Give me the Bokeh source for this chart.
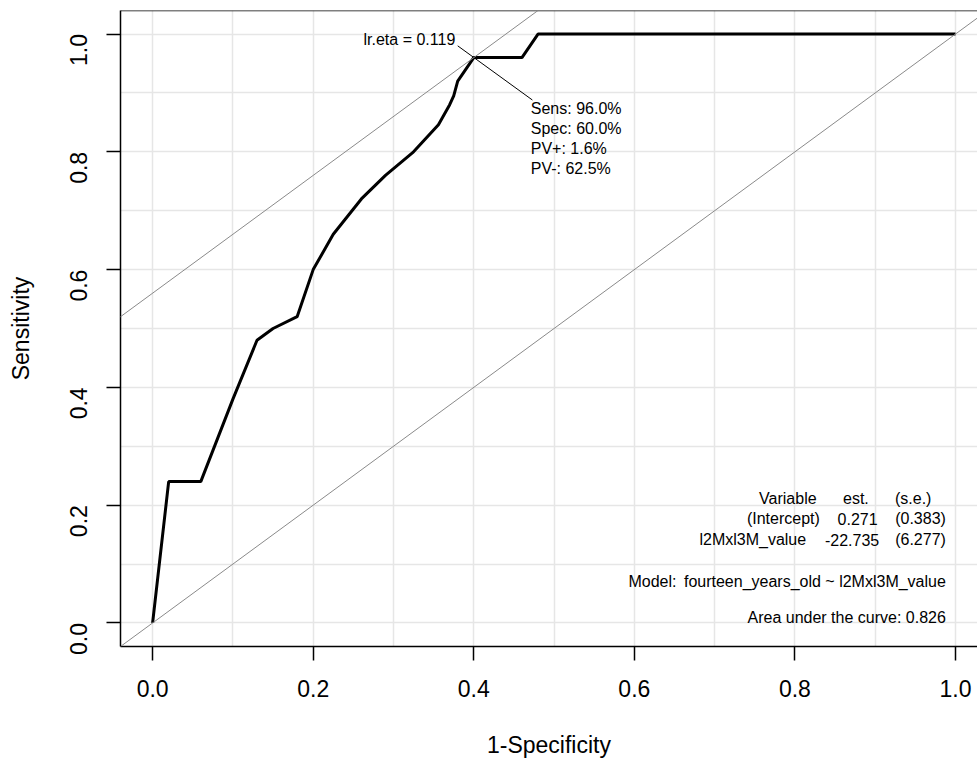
import math
from bokeh.plotting import figure
from bokeh.models import FixedTicker, SingleIntervalTicker, Slope, Span, Label
from bokeh.embed import file_html
from bokeh.resources import INLINE

# ---------------- data ----------------
fpr = [0.0, 0.02, 0.06, 0.10, 0.13, 0.15, 0.18, 0.20, 0.225, 0.26, 0.29, 0.325,
       0.356, 0.37, 0.375, 0.38, 0.39, 0.40, 0.46, 0.48, 1.0]
tpr = [0.0, 0.24, 0.24, 0.38, 0.48, 0.50, 0.52, 0.60, 0.66, 0.72, 0.76, 0.80,
       0.846, 0.88, 0.895, 0.92, 0.94, 0.96, 0.96, 1.0, 1.0]

tick_values = [0.0, 0.2, 0.4, 0.6, 0.8, 1.0]
tick_labels = ["0.0", "0.2", "0.4", "0.6", "0.8", "1.0"]

opt_fpr = 0.40
opt_tpr = 0.96
lr_eta = 0.119
stat_names = ["Sens", "Spec", "PV+", "PV-"]
stat_values = [96.0, 60.0, 1.6, 62.5]

table_variable = ["Variable", "(Intercept)", "l2Mxl3M_value"]
table_est = ["est.", "0.271", "-22.735"]
table_se = ["(s.e.)", "(0.383)", "(6.277)"]
model_label = "Model:"
model_formula = "fourteen_years_old ~ l2Mxl3M_value"
auc = 0.826

FONT = "Liberation Sans"

# ---------------- figure ----------------
p = figure(width=977, height=762, x_range=(-0.04, 1.0274), y_range=(-0.04, 1.04),
           output_backend="svg", toolbar_location=None,
           min_border_left=120, min_border_right=0, min_border_top=10, min_border_bottom=116,
           x_axis_label="1-Specificity", y_axis_label="Sensitivity")
p.background_fill_color = "white"
p.border_fill_color = "white"
p.outline_line_color = None

for g in (p.xgrid, p.ygrid):
    g.ticker = SingleIntervalTicker(interval=0.1)
    g.grid_line_color = "#e6e6e6"
    g.grid_line_width = 1.5

overrides = {v: t for v, t in zip(tick_values, tick_labels)}
for ax in (p.xaxis, p.yaxis):
    ax.ticker = FixedTicker(ticks=tick_values)
    ax.major_label_overrides = overrides
    ax.major_tick_out = 14
    ax.major_tick_in = 0
    ax.minor_tick_line_color = None
    ax.axis_line_color = "black"
    ax.axis_line_width = 1.5
    ax.major_tick_line_color = "black"
    ax.major_tick_line_width = 1.5
    ax.major_label_text_font = FONT
    ax.major_label_text_font_size = "23px"
    ax.major_label_text_color = "black"
    ax.axis_label_text_font = FONT
    ax.axis_label_text_font_size = "23px"
    ax.axis_label_text_font_style = "normal"
    ax.axis_label_text_color = "black"

p.yaxis.major_label_orientation = math.pi / 2
p.yaxis.major_label_standoff = 28
p.yaxis.axis_label_standoff = 25
p.xaxis.major_label_standoff = 19
p.xaxis.axis_label_standoff = 32

# top border of the plot box
p.add_layout(Span(location=1.04, dimension="width", line_color="black", line_width=1.5))

# reference lines
p.add_layout(Slope(gradient=1, y_intercept=0, line_color="#8a8a8a", line_width=1))
p.add_layout(Slope(gradient=1, y_intercept=opt_tpr - opt_fpr, line_color="#8a8a8a", line_width=1))

# ROC curve
p.line(fpr, tpr, line_color="black", line_width=3)

# optimal point annotation
p.segment(x0=[opt_fpr - 0.020], y0=[opt_tpr + 0.020],
          x1=[opt_fpr + 0.073], y1=[opt_tpr - 0.072], line_color="black", line_width=1)
p.add_layout(Label(x=opt_fpr - 0.023, y=opt_tpr + 0.030, text="lr.eta = %.3f" % lr_eta,
                   text_align="right", text_baseline="middle", text_font=FONT,
                   text_font_size="16px", text_color="black"))
for i, (nm, v) in enumerate(zip(stat_names, stat_values)):
    p.add_layout(Label(x=opt_fpr + 0.071, y=opt_tpr - 0.086 - i * 0.034,
                       text="%s: %.1f%%" % (nm, v), text_align="left", text_baseline="middle",
                       text_font=FONT, text_font_size="16px", text_color="black"))

# model table (bottom right)
row_y = [0.212, 0.177, 0.141]
col_x = [[0.827, 0.892, 0.970], [0.831, 0.903, 0.988], [0.814, 0.905, 0.988]]
for r in range(3):
    for c, col in enumerate((table_variable, table_est, table_se)):
        p.add_layout(Label(x=col_x[r][c], y=row_y[r], text=col[r], text_align="right",
                           text_baseline="middle", text_font=FONT, text_font_size="16px",
                           text_color="black"))
p.add_layout(Label(x=0.5926, y=0.0696, text=model_label, text_align="left",
                   text_baseline="middle", text_font=FONT, text_font_size="16px",
                   text_color="black"))
p.add_layout(Label(x=0.988, y=0.0696, text=model_formula, text_align="right",
                   text_baseline="middle", text_font=FONT, text_font_size="16px",
                   text_color="black"))
p.add_layout(Label(x=0.988, y=0.0085, text="Area under the curve: %.3f" % auc,
                   text_align="right", text_baseline="middle", text_font=FONT,
                   text_font_size="16px", text_color="black"))

open("out.html", "w").write(file_html(p, INLINE))
